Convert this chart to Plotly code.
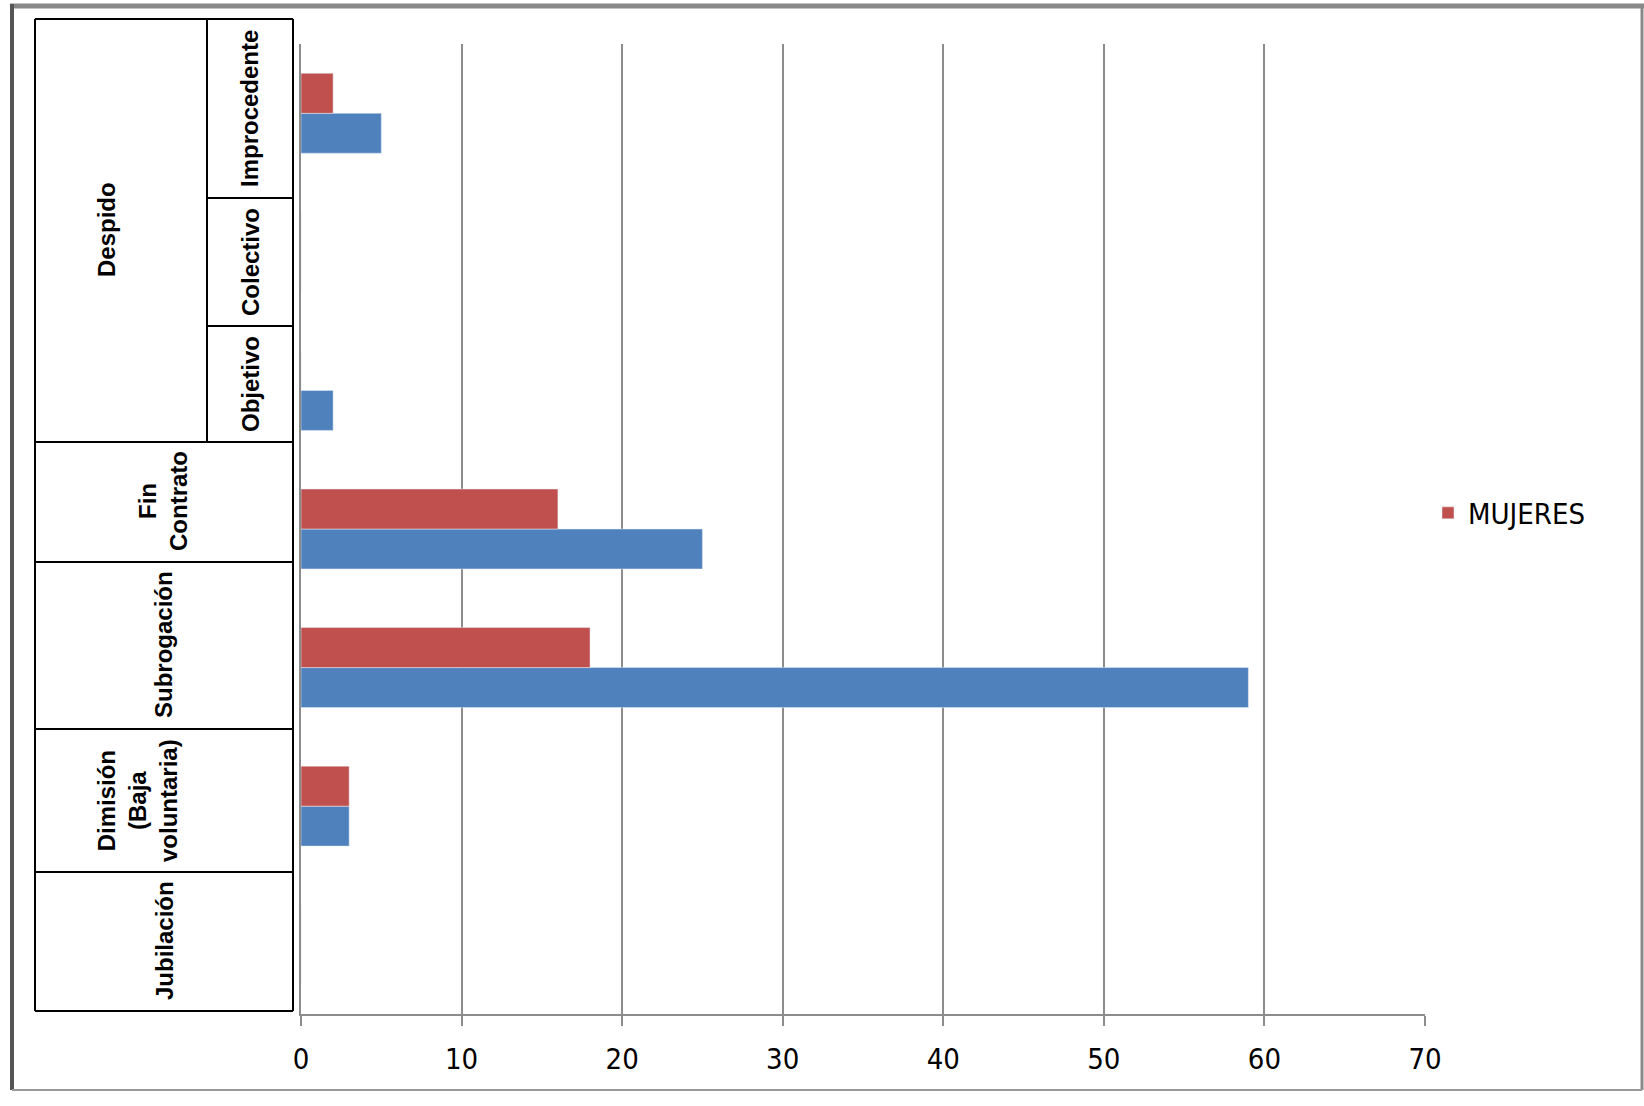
import plotly.graph_objects as go

# categorias de abajo hacia arriba
categorias = ['Jubilación', 'Dimisión (Baja voluntaria)', 'Subrogación', 'Fin Contrato',
              'Despido Objetivo', 'Despido Colectivo', 'Despido Improcedente']
hombres = [0, 3, 59, 25, 2, 0, 5]
mujeres = [0, 3, 18, 16, 0, 0, 2]
x_ticks = [0, 10, 20, 30, 40, 50, 60, 70]

W, H = 1644, 1106
L, R, T, B = 301, 1425, 44, 1014   # area de trazado (pixeles de pantalla)
fuente_estrecha = 'DejaVu Sans Condensed, Liberation Sans Narrow, Liberation Sans'


def px(x):
    return (x - L) / (R - L)


def py(y):
    return (B - y) / (B - T)


fig = go.Figure()
fig.add_trace(go.Bar(
    y=categorias, x=hombres, name='HOMBRES', orientation='h',
    marker_color='#4F81BD', showlegend=False
))
fig.add_trace(go.Bar(
    y=categorias, x=mujeres, name='MUJERES', orientation='h',
    marker_color='#C0504D'
))

shapes = []


def linea(x0, y0, x1, y1, color='black', width=2):
    shapes.append(dict(type='line', xref='paper', yref='paper',
                       x0=px(x0), y0=py(y0), x1=px(x1), y1=py(y1),
                       line=dict(color=color, width=width)))


# tabla de la izquierda
t_left, t_right, t_top, t_bottom, t_split = 35, 293, 19, 1011, 207
linea(t_left, t_top, t_right, t_top)
linea(t_left, t_bottom, t_right, t_bottom)
linea(t_left, t_top, t_left, t_bottom)
linea(t_right, t_top, t_right, t_bottom)
linea(t_split, t_top, t_split, 442)
for yy in [198, 326]:
    linea(t_split, yy, t_right, yy)
for yy in [442, 562, 729, 872]:
    linea(t_left, yy, t_right, yy)

# marco exterior
linea(10, 6, 1644, 6, color='#888888', width=5)
linea(12, 4, 12, 1090, color='#555555', width=4)
linea(1642, 6, 1642, 1090, color='#888888', width=3)
linea(12, 1090, 1642, 1090, color='#999999', width=2)

etiquetas = [
    ('Despido', 107, 230),
    ('Improcedente', 250, 109),
    ('Colectivo', 250, 262),
    ('Objetivo', 250, 384),
    ('Fin<br>Contrato', 163, 501),
    ('Subrogación', 163, 645),
    ('Dimisión<br>(Baja<br>voluntaria)', 137, 801),
    ('Jubilación', 164, 941),
]
annotations = []
for texto, ax, ay in etiquetas:
    annotations.append(dict(
        text='<b>' + texto + '</b>', xref='paper', yref='paper',
        x=px(ax), y=py(ay), xanchor='center', yanchor='middle',
        textangle=-90, showarrow=False,
        font=dict(family='Liberation Sans, Arial', size=24, color='black')
    ))

fig.update_layout(
    width=W, height=H,
    margin=dict(l=L, r=W - R, t=T, b=H - B, autoexpand=False),
    plot_bgcolor='white', paper_bgcolor='white',
    barmode='group', bargap=0.423, bargroupgap=0,
    shapes=shapes, annotations=annotations,
    legend=dict(x=px(1428), y=py(513), xanchor='left', yanchor='middle',
                font=dict(family=fuente_estrecha, size=29, color='black'),
                bgcolor='rgba(0,0,0,0)'),
    xaxis=dict(
        range=[0, 70], tickvals=x_ticks, showgrid=True, gridcolor='#8c8c8c', gridwidth=1.5,
        zeroline=False, showline=True, linecolor='#8c8c8c', linewidth=2,
        ticks='outside', ticklen=10, tickcolor='#8c8c8c', tickwidth=2,
        ticklabelstandoff=8,
        tickfont=dict(family=fuente_estrecha, size=29, color='black')
    ),
    yaxis=dict(
        categoryorder='array', categoryarray=categorias, showticklabels=False,
        showgrid=False, zeroline=False, showline=True, linecolor='#8c8c8c', linewidth=2,
        ticks=''
    ),
)

# sin margen en el body para que la figura ocupe toda la ventana
fig.write_html('out.html', config={'displayModeBar': False},
               post_script="document.body.style.margin='0';document.body.style.overflow='hidden';")
